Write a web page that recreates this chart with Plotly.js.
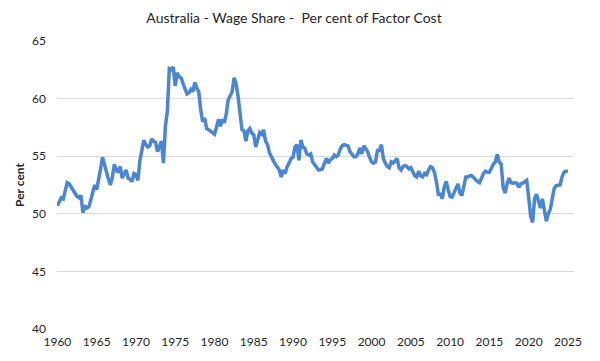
<!DOCTYPE html>
<html>
<head>
<meta charset="utf-8">
<script src="https://cdn.plot.ly/plotly-3.0.1.min.js"></script>
<style>html,body{margin:0;padding:0;background:#fff;}#chart{width:600px;height:361px;}</style>
</head>
<body>
<div id="chart"></div>
<script>
// Quarterly wage share, per cent of factor cost, starting 1960 Q1
var startYear = 1960;
var wageShare = [
  50.7, 51.0, 51.4, 51.3,   // 1960
  52.0, 52.7, 52.6, 52.3,   // 1961
  52.1, 51.8, 51.5, 51.4,   // 1962
  51.6, 50.1, 50.7, 50.5,   // 1963
  50.6, 51.2, 51.8, 52.5,   // 1964
  52.1, 53.2, 53.9, 54.9,   // 1965
  54.2, 53.6, 53.0, 52.5,   // 1966
  53.2, 54.3, 53.8, 53.6,   // 1967
  54.1, 53.1, 53.4, 53.8,   // 1968
  53.1, 53.0, 52.8, 53.5,   // 1969
  53.4, 52.9, 54.6, 55.5,   // 1970
  56.4, 56.0, 55.8, 55.9,   // 1971
  56.5, 56.3, 56.2, 55.4,   // 1972
  55.8, 56.3, 54.4, 57.6,   // 1973
  58.9, 62.6, 62.5, 62.75,  // 1974
  61.1, 62.25, 61.9, 61.8,  // 1975
  61.3, 60.8, 60.4, 60.5,   // 1976
  60.8, 60.6, 61.4, 60.9,   // 1977
  60.6, 59.0, 58.0, 58.3,   // 1978
  57.4, 57.3, 57.15, 57.0,  // 1979
  56.9, 57.5, 58.2, 57.6,   // 1980
  58.2, 57.9, 58.7, 59.9,   // 1981
  60.3, 60.6, 61.8, 61.3,   // 1982
  60.2, 58.8, 57.3, 57.2,   // 1983
  56.3, 57.2, 57.4, 57.0,   // 1984
  56.85, 55.8, 56.5, 57.05, // 1985
  56.9, 57.3, 56.3, 56.0,   // 1986
  55.3, 54.9, 54.6, 54.3,   // 1987
  54.1, 53.8, 53.2, 53.8,   // 1988
  53.5, 54.1, 54.4, 54.8,   // 1989
  54.9, 55.8, 56.0, 54.65,  // 1990
  56.4, 55.8, 55.7, 55.2,   // 1991
  55.1, 55.2, 54.5, 54.3,   // 1992
  54.1, 53.8, 53.85, 53.9,  // 1993
  54.4, 54.8, 54.4, 54.7,   // 1994
  54.8, 55.1, 54.95, 55.1,  // 1995
  55.6, 55.9, 56.0, 55.95,  // 1996
  55.9, 55.4, 55.1, 54.95,  // 1997
  54.95, 55.2, 55.7, 55.2,  // 1998
  55.9, 55.6, 55.4, 54.9,   // 1999
  54.5, 54.4, 54.5, 55.5,   // 2000
  55.5, 56.0, 54.8, 54.4,   // 2001
  54.1, 54.0, 54.5, 54.4,   // 2002
  54.6, 54.8, 54.0, 53.8,   // 2003
  54.1, 54.2, 54.1, 53.9,   // 2004
  54.0, 53.6, 53.3, 53.2,   // 2005
  53.7, 53.3, 53.2, 53.5,   // 2006
  53.4, 53.8, 54.1, 54.0,   // 2007
  53.6, 52.8, 51.7, 51.7,   // 2008
  51.3, 52.3, 52.8, 52.1,   // 2009
  51.5, 51.45, 51.8, 52.2,  // 2010
  52.6, 51.8, 51.6, 52.4,   // 2011
  53.2, 53.2, 53.3, 53.3,   // 2012
  53.1, 52.9, 52.8, 52.7,   // 2013
  53.2, 53.5, 53.7, 53.6,   // 2014
  53.6, 54.0, 54.3, 54.5,   // 2015
  55.15, 54.5, 54.3, 52.3,  // 2016
  51.8, 52.6, 53.1, 52.7,   // 2017
  52.65, 52.7, 52.65, 52.3, // 2018
  52.6, 52.65, 52.8, 52.9,  // 2019
  51.4, 49.8, 49.25, 51.3,  // 2020
  51.7, 51.1, 50.5, 51.3,   // 2021
  50.3, 49.35, 50.0, 50.4,  // 2022
  51.3, 52.2, 52.45, 52.45, // 2023
  52.5, 53.2, 53.6, 53.7,   // 2024
  53.7                      // 2025
];
var xTickVals = [1960,1965,1970,1975,1980,1985,1990,1995,2000,2005,2010,2015,2020,2025];
var yTickVals = [40,45,50,55,60,65];

var quarters = wageShare.map(function(v, i){ return startYear + i * 0.25; });

var font = "Lato, 'Open Sans', sans-serif";
Plotly.newPlot('chart', [{
  x: quarters,
  y: wageShare,
  type: 'scatter',
  mode: 'lines',
  line: {color: '#4A86D4', width: 3.5},
  hoverinfo: 'x+y'
}], {
  width: 600, height: 361,
  margin: {l: 57, r: 26, t: 41, b: 32, pad: 0},
  paper_bgcolor: '#ffffff',
  plot_bgcolor: '#ffffff',
  showlegend: false,
  title: {
    text: 'Australia - Wage Share -\u00a0\u00a0Per cent of Factor Cost',
    font: {family: font, size: 14, color: '#262626'},
    x: 294/600, xref: 'container', xanchor: 'center',
    y: 1 - 18/361, yref: 'container', yanchor: 'middle'
  },
  xaxis: {
    range: [1959.95, 2025.77],
    tickmode: 'array', tickvals: xTickVals, ticktext: xTickVals.map(String),
    showgrid: false, zeroline: false, showline: false,
    ticks: '', tickfont: {family: font, size: 12, color: '#262626'},
    ticklabelstandoff: 4
  },
  yaxis: {
    range: [40, 65],
    tickmode: 'array', tickvals: yTickVals, ticktext: yTickVals.map(String),
    showgrid: true, gridcolor: '#D9D9D9', gridwidth: 1,
    zeroline: false, showline: false, ticks: '',
    tickfont: {family: font, size: 12, color: '#262626'},
    ticklabelstandoff: 10,
    title: {text: '<b>Per cent</b>', font: {family: font, size: 12, color: '#262626'}, standoff: 4}
  }
}, {displayModeBar: false, staticPlot: true});
</script>
</body>
</html>
